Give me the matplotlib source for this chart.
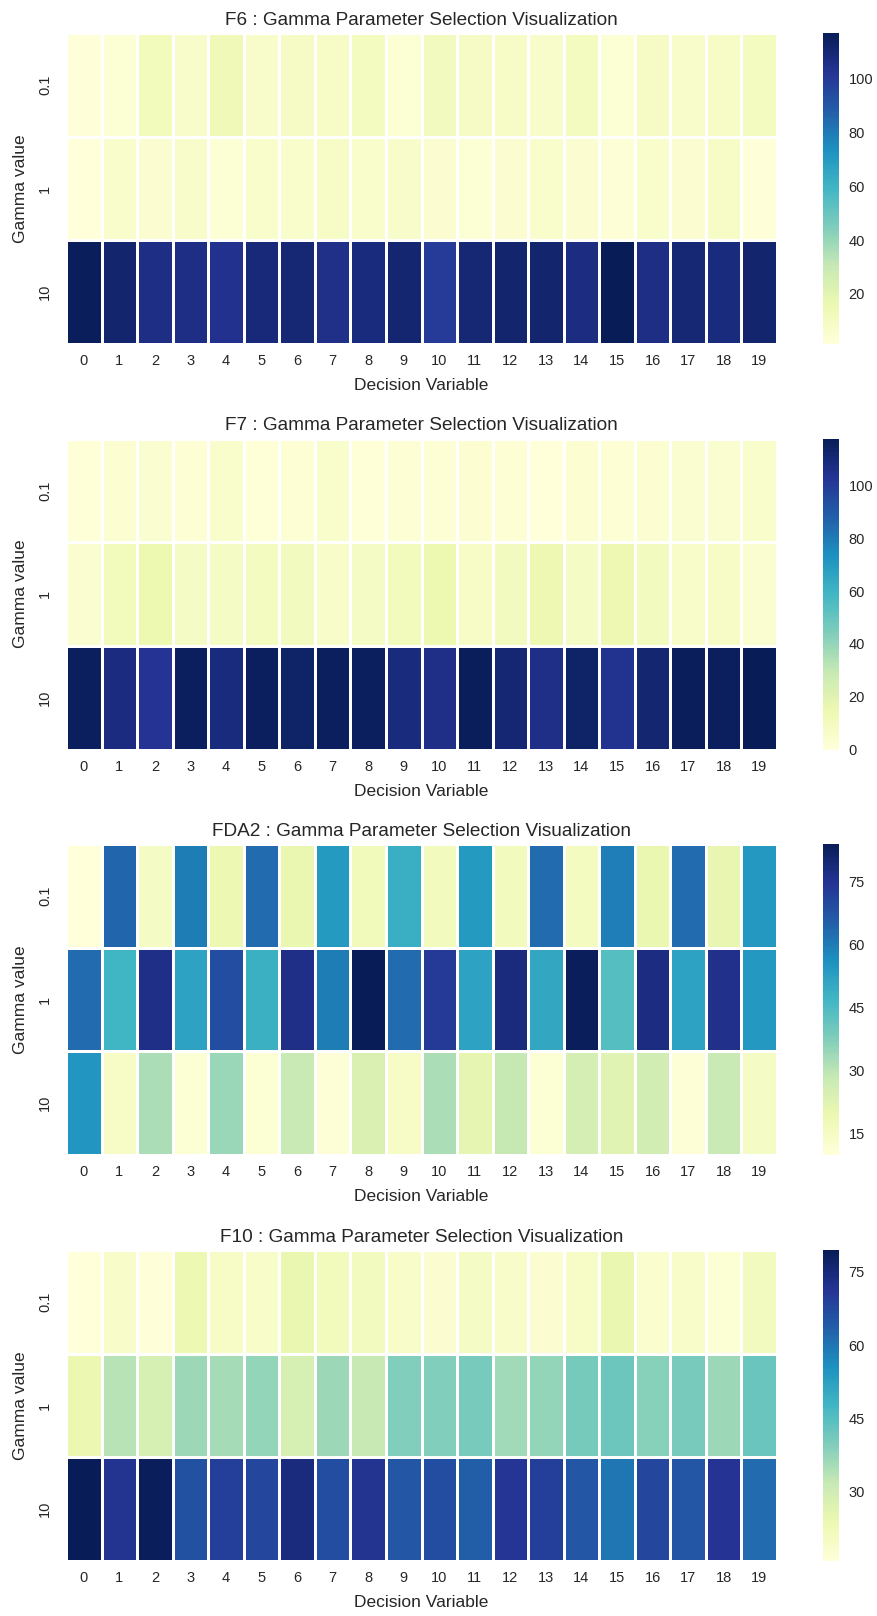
import numpy as np
import matplotlib
matplotlib.use("Agg")
import matplotlib.pyplot as plt
import seaborn as sns

sns.set_style("white")
plt.rcParams['font.family'] = ['Liberation Sans', 'DejaVu Sans']

gammas = ["0.1", "1", "10"]
variables = list(range(20))

f6_01 = [2, 4, 12, 7, 14, 7, 9, 8, 10, 4, 11, 9, 8, 7, 10, 4, 9, 7, 8, 10]
f6_1 = [1.4, 6, 5, 7, 4, 6, 6, 8, 6, 7, 5, 4, 5, 6, 5, 3, 6, 5, 8, 2]
f6_10 = [116, 112, 106, 106, 104, 109, 110, 105, 108, 111, 100, 110, 112, 112, 107, 117, 106, 110, 108, 112]
f6_ticks = [20, 40, 60, 80, 100]

f7_01 = [1, 3, 4, 2, 5, 1, 2, 5, 1, 2, 2, 3, 2, 0, 3, 2, 3, 4, 4, 5]
f7_1 = [4, 11, 15, 8, 8, 9, 10, 6, 8, 11, 15, 7, 10, 14, 8, 14, 10, 6, 7, 4]
f7_10 = [116, 108, 103, 116, 109, 116, 114, 116, 116, 109, 106, 117, 111, 106, 114, 104, 112, 117, 116, 117.8]
f7_ticks = [0, 20, 40, 60, 80, 100]

fda2_01 = [10, 64, 15, 60, 19, 63, 20, 54, 17, 49, 16.5, 54, 16.5, 63, 16, 59.5, 20, 63, 20.5, 54.5]
fda2_1 = [63, 47, 76.5, 52, 69, 48.5, 76.5, 60, 84, 63, 73.5, 52, 78, 50.5, 83.5, 44, 77.5, 52, 76, 54.5]
fda2_10 = [55, 14.5, 32, 11.5, 34.5, 11.5, 28, 11, 24, 14.5, 32, 21, 28.5, 11.5, 25.5, 22.5, 26, 11, 28, 15]
fda2_ticks = [15, 30, 45, 60, 75]

f10_01 = [15.7, 19, 16, 23.5, 19.5, 19, 24.5, 21.5, 21, 19, 17.5, 20, 19, 17.5, 19.5, 24.5, 18, 19, 17, 21]
f10_1 = [24, 33.5, 28.5, 36.5, 35.5, 37.5, 28.5, 36.5, 31.5, 39.5, 39.5, 40.5, 36, 37.5, 40.7, 42, 38.7, 40.5, 36.5, 42.5]
f10_10 = [79.5, 72, 79, 66, 69.5, 68, 74.5, 66.7, 72, 65, 66.7, 63.5, 71.2, 69.5, 65, 59.7, 68, 65, 71.5, 61.5]
f10_ticks = [30, 45, 60, 75]

problems = [
    ("F6", [f6_01, f6_1, f6_10], f6_ticks),
    ("F7", [f7_01, f7_1, f7_10], f7_ticks),
    ("FDA2", [fda2_01, fda2_1, fda2_10], fda2_ticks),
    ("F10", [f10_01, f10_1, f10_10], f10_ticks),
]

W, H = 878, 1616
fig = plt.figure(figsize=(W / 100, H / 100), dpi=100)

tops = [33, 438.5, 844, 1250]
for (name, rows, cticks), top in zip(problems, tops):
    ax = fig.add_axes([66 / W, 1 - (top + 311) / H, 711 / W, 311 / H])
    cax = fig.add_axes([823 / W, 1 - (top + 311) / H, 16 / W, 311 / H])
    data = np.array(rows)
    sns.heatmap(data, ax=ax, cbar_ax=cax, cmap="YlGnBu", linewidths=2, linecolor="white",
                xticklabels=variables, yticklabels=gammas, cbar_kws={"ticks": cticks})
    ax.set_yticklabels(gammas, rotation=90, va="center")
    ax.set_xticklabels(variables, rotation=0)
    ax.set_title(name + " : Gamma Parameter Selection Visualization", fontsize=13.7, color=".15")
    ax.set_xlabel("Decision Variable", fontsize=12.5, color=".15", labelpad=7)
    ax.set_ylabel("Gamma value", fontsize=12.5, color=".15", labelpad=7)
    ax.tick_params(axis="x", labelsize=10.5, colors=".15", length=0, pad=7.5)
    ax.tick_params(axis="y", labelsize=10.5, colors=".15", length=0, pad=10)
    cax.tick_params(labelsize=10.5, colors=".15", length=0, pad=7)

fig.savefig("out.png", dpi=100)
